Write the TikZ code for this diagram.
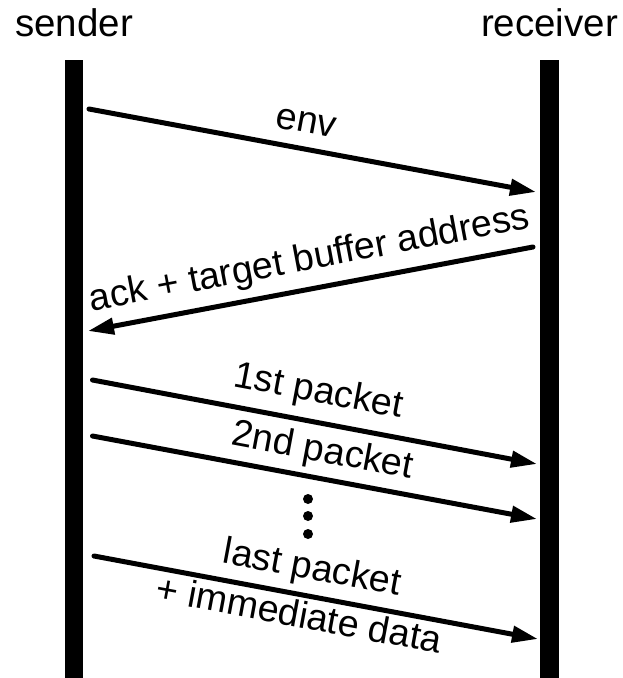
\documentclass[tikz,border=0pt]{standalone}
\usepackage{fontspec}
\setmainfont{Liberation Sans}
\usetikzlibrary{arrows.meta}
\begin{document}
\begin{tikzpicture}[x=1pt,y=-1pt,
  lifeline/.style={rectangle, fill=black, inner sep=0pt,
                   minimum width=18.5pt, minimum height=622pt},
  actor/.style={font=\fontsize{38.5pt}{46pt}\selectfont, anchor=base, inner sep=0pt},
  msg/.style={line width=5pt, line cap=round,
              -{Triangle[length=26pt,width=16pt]}},
  lbl/.style={font=\fontsize{37.6pt}{44pt}\selectfont, sloped, anchor=base, inner sep=0pt},
  dotmark/.style={circle, fill=black, inner sep=0pt, minimum size=10pt}]
\useasboundingbox (0,0) rectangle (622,678);

% lifelines
\node[lifeline] (snd) at (74,371) {};
\node[lifeline] (rcv) at (549.5,371) {};

% titles
\node[actor] (sendertitle) at (74,36) {sender};
\node[actor] (receivertitle) at (549.5,36) {receiver};

% message end points on the lifelines
\coordinate (env-s) at (89,109);    \coordinate (env-r) at (536,192);
\coordinate (ack-r) at (533,247);   \coordinate (ack-s) at (88,331);
\coordinate (p1-s) at (92.5,380);   \coordinate (p1-r) at (537,464);
\coordinate (p2-s) at (92.5,436);   \coordinate (p2-r) at (537,519);
\coordinate (pn-s) at (94,556);     \coordinate (pn-r) at (538,639);

% messages
\draw[msg] (env-s) -- node[lbl, pos=0.475, yshift=16pt] {env} (env-r);
\draw[msg] (ack-r) -- node[lbl, pos=0.49, yshift=19pt] {ack + target buffer address} (ack-s);
\draw[msg] (p1-s) -- node[lbl, pos=0.495, yshift=20pt] {1st packet} (p1-r);
\draw[msg] (p2-s) -- node[lbl, pos=0.506, yshift=16.5pt] {2nd packet} (p2-r);
\draw[msg] (pn-s) -- node[lbl, pos=0.48, yshift=17pt] {last packet}
                     node[lbl, pos=0.47, yshift=-32.5pt] {+ immediate data} (pn-r);

% ellipsis between the packets
\node[dotmark] (dot1) at (308,499) {};
\node[dotmark] (dot2) at (308,516) {};
\node[dotmark] (dot3) at (308,534) {};
\end{tikzpicture}
\end{document}
